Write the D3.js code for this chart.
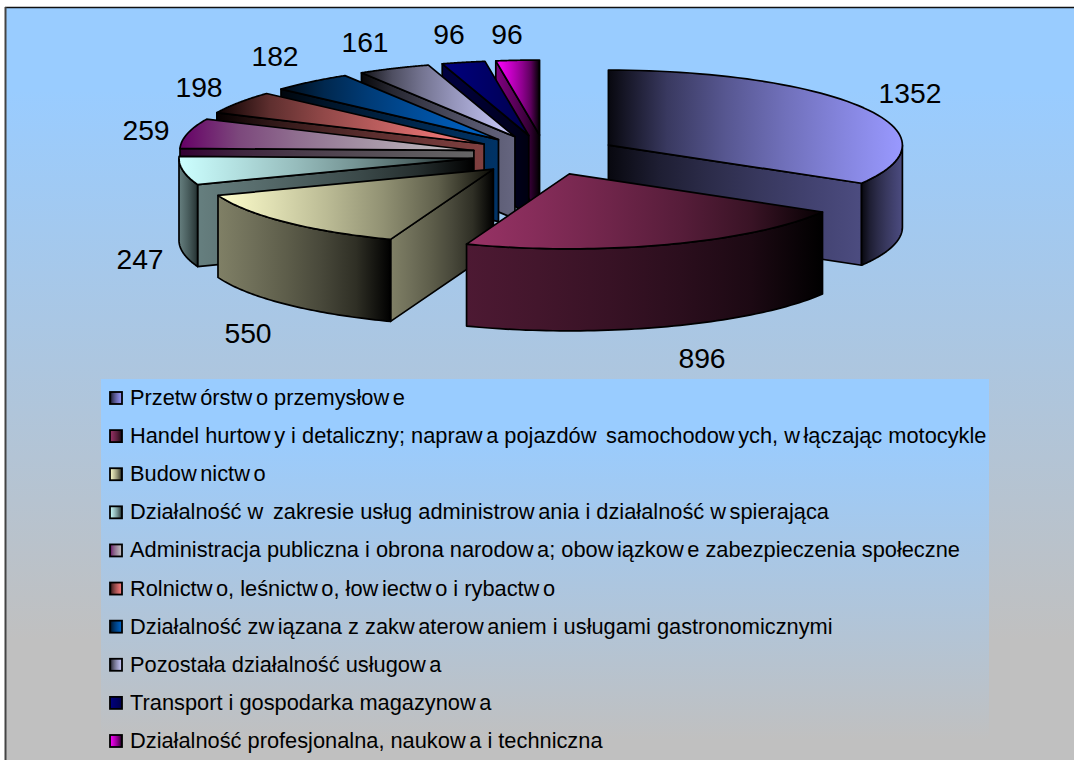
<!DOCTYPE html>
<html><head><meta charset="utf-8">
<script src="https://cdn.jsdelivr.net/npm/d3@7/dist/d3.min.js"></script>
<style>html,body{margin:0;padding:0;background:#fff}svg{display:block}text{font-family:"Liberation Sans",Arial,sans-serif;fill:#000}</style>
</head><body><div id="c"></div>
<script>
const categories = [
 "Przetwórstwo przemysłowe",
 "Handel hurtowy i detaliczny; naprawa pojazdów samochodowych, włączając motocykle",
 "Budownictwo",
 "Działalność w zakresie usług administrowania i działalność wspierająca",
 "Administracja publiczna i obrona narodowa; obowiązkowe zabezpieczenia społeczne",
 "Rolnictwo, leśnictwo, łowiectwo i rybactwo",
 "Działalność związana z zakwaterowaniem i usługami gastronomicznymi",
 "Pozostała działalność usługowa",
 "Transport i gospodarka magazynowa",
 "Działalność profesjonalna, naukowa i techniczna"];
const values = [1352,896,550,247,259,198,182,161,96,96];
// top face gradient (left, right) and wall gradient (left, right)
const topLeft  = ["#08080f","#993366","#ffffcc","#ccffff","#660066","#0a0000","#000a14","#101014","#000080","#ff00ff"];
const topRight = ["#9999ff","#050002","#0a0a05","#121c1c","#c4c4c4","#ff8080","#0066cc","#ccccff","#00004a","#000000"];
const wallLeft = ["#08080f","#4d1933","#808066","#667f7f","#330033","#050000","#00060c","#08080a","#000040","#800080"];
const wallRight= ["#4c4c80","#000000","#000000","#000000","#666666","#804040","#003366","#666680","#000010","#000000"];
const labelX = [910,702,248,140,146,199,275,365,449,507];
const labelY = [93,358,333,259,130,87,56,42,34,34];

const W=1074,H=760;
const svg=d3.select("#c").append("svg").attr("width",W).attr("height",H);
const defs=svg.append("defs");
function grad(id,stops,vertical,user){
  const g=defs.append("linearGradient").attr("id",id);
  if(vertical){
    g.attr("gradientUnits","userSpaceOnUse").attr("x1",0).attr("x2",0).attr("y1",user[0]).attr("y2",user[1]);
    stops.forEach((c,i)=>g.append("stop").attr("offset",i/(stops.length-1)).attr("stop-color",c));
  } else {
    g.attr("x1",0).attr("x2",1).attr("y1",0).attr("y2",0);
    const mix=d3.interpolateRgb.gamma(1.6)(stops[0],stops[1]);
    d3.range(0,1.01,0.2).forEach(t=>g.append("stop").attr("offset",t).attr("stop-color",mix(t)));
  }
  return `url(#${id})`;
}
// background and frame
svg.append("rect").attr("x",6).attr("y",8).attr("width",W).attr("height",H)
  .attr("fill",grad("bg",["#99ccff","#c0c0c0"],true,[90,640]));
svg.append("line").attr("x1",5).attr("x2",W).attr("y1",7.5).attr("y2",7.5).attr("stroke","#111").attr("stroke-width",1.5);
svg.append("line").attr("x1",5.5).attr("x2",5.5).attr("y1",7).attr("y2",H).attr("stroke","#444").attr("stroke-width",2);
// legend box
svg.append("rect").attr("x",101).attr("y",379).attr("width",888).attr("height",H-379)
  .attr("fill",grad("lg",["#99ccff","#c0c0c0"],true,[430,740]));

// projection of the tilted pie
const sx=d3.scaleLinear().domain([-1,1]).range([545-294,545+294]);
const sy=d3.scaleLinear().domain([-1,1]).range([155-75,155+75]);
const explodeX=73/294, explodeY=20/75, depth=82;
const pie=d3.pie().sort(null).startAngle(0).endAngle(2*Math.PI)(values);
const slices=pie.map((p,i)=>{
  const m=(p.startAngle+p.endAngle)/2;
  return {i,a0:p.startAngle,a1:p.endAngle,ox:Math.sin(m)*explodeX,oy:-Math.cos(m)*explodeY};
});
const pt=(s,a,r,d)=>[sx(s.ox+r*Math.sin(a)),sy(s.oy-r*Math.cos(a))+(d||0)];
const line=d3.line();
const arcPts=(s,a0,a1,d)=>d3.range(0,61).map(k=>pt(s,a0+(a1-a0)*k/60,1,d));
const chart=svg.append("g").attr("stroke","#000").attr("stroke-width",1.7).attr("stroke-linejoin","round");
const order=[9,8,7,6,5,4,3,2,0,1];
const PI=Math.PI;
function radial(s,a,f){
  chart.append("path").attr("fill",f)
   .attr("d",line([pt(s,0,0),pt(s,a,1),pt(s,a,1,depth),pt(s,0,0,depth)])+"Z");
}
order.forEach(n=>{
  const s=slices[n];
  const wg=grad("w"+n,[wallLeft[n],wallRight[n]]);
  const tg=grad("t"+n,[topLeft[n],topRight[n]]);
  if(s.a0>PI) radial(s,s.a0,wg);
  if(s.a1<PI) radial(s,s.a1,wg);
  const a0=Math.max(s.a0,PI/2),a1=Math.min(s.a1,1.5*PI);
  if(a1>a0){
    let fill=wg;
    if(n===0) fill=grad("w0o",["#08080f","#4c4c80"]);
    if(n===3) fill=grad("w3o",["#667f7f","#223030"]);
    chart.append("path").attr("fill",fill)
     .attr("d",line(arcPts(s,a0,a1,0).concat(arcPts(s,a1,a0,depth)))+"Z");
  }
  chart.append("path").attr("fill",tg)
   .attr("d",line([pt(s,0,0)].concat(arcPts(s,s.a0,s.a1,0)))+"Z");
});

// value labels
svg.append("g").selectAll("text").data(values).join("text")
  .attr("x",(d,i)=>labelX[i]).attr("y",(d,i)=>labelY[i]+10)
  .attr("text-anchor","middle").attr("font-size",28.3).text(d=>d);

// legend
const legY=d3.scalePoint().domain(d3.range(categories.length)).range([398,741]);
const leg=svg.append("g").selectAll("g").data(categories).join("g")
  .attr("transform",(d,i)=>`translate(0,${legY(i)})`);
leg.append("rect").attr("x",110).attr("y",-6).attr("width",12).attr("height",12)
  .attr("stroke","#000").attr("stroke-width",1.8)
  .attr("fill",(d,i)=>grad("s"+i,[topLeft[i],topRight[i]]));
leg.append("text").attr("x",130).attr("y",7).attr("font-size",21.8).each(function(d){
  const t=d3.select(this);
  d.split(/(?<=w)/).forEach((part,k)=>{
    t.append("tspan").attr("dx",k?3.6:0).text(part);
  });
});
</script></body></html>
